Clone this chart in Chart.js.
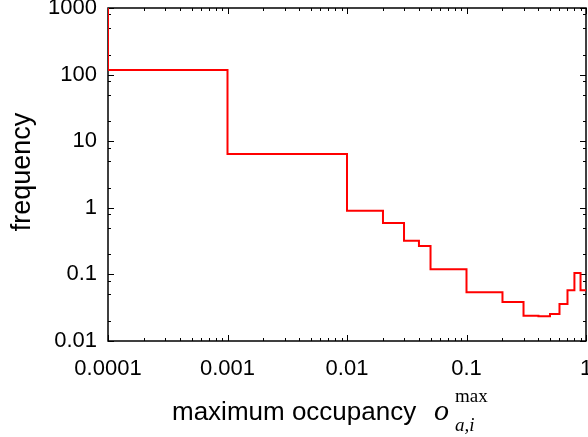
<!DOCTYPE html>
<html>
<head>
<meta charset="utf-8">
<script src="https://cdn.jsdelivr.net/npm/chart.js@4/dist/chart.umd.min.js"></script>
<style>
  html, body { margin: 0; padding: 0; background: #ffffff; }
  #wrap { width: 588px; height: 437px; position: relative; }
</style>
</head>
<body>
<div id="wrap"><canvas id="c" width="588" height="437"></canvas></div>
<script>
// ---- data (step histogram, left bin edges) ----
const binLeftEdges = [0.0001, 0.0001, 0.001, 0.01, 0.02, 0.03, 0.04, 0.05, 0.1, 0.2, 0.3, 0.4, 0.5, 0.6, 0.7, 0.8, 0.9, 1];
const frequencyValues = [3000, 117, 6.4, 0.9, 0.59, 0.32, 0.267, 0.119, 0.054, 0.0386, 0.024, 0.0236, 0.0254, 0.036, 0.0577, 0.105, 0.0577, 0.0577];
const xTickValues = [0.0001, 0.001, 0.01, 0.1, 1];
const yTickValues = [0.01, 0.1, 1, 10, 100, 1000];
const xMinorMultipliers = [2, 3, 4, 5, 6, 7, 8, 9];
const yMinorMultipliers = [2, 5, 8];
const xTitleText = 'maximum occupancy';
const yTitleText = 'frequency';

const SANS = '"Liberation Sans", Arial, Helvetica, sans-serif';
const SERIF = '"Liberation Serif", "DejaVu Serif", "Times New Roman", serif';

const points = binLeftEdges.map((x, i) => ({ x: x, y: frequencyValues[i] }));

function noPad(scale) {
  scale.paddingTop = 0; scale.paddingBottom = 0;
  scale.paddingLeft = 0; scale.paddingRight = 0;
}

const framePlugin = {
  id: 'frame',
  beforeDatasetsDraw(chart) {
    const ctx = chart.ctx;
    const a = chart.chartArea;
    const xs = chart.scales.x, ys = chart.scales.y;
    ctx.save();
    ctx.strokeStyle = '#000';
    ctx.lineWidth = 1.5;
    ctx.strokeRect(a.left, a.top, a.right - a.left, a.bottom - a.top);
    ctx.lineWidth = 1;
    ctx.beginPath();
    xTickValues.forEach((d, di) => {
      const majorPx = Math.round(xs.getPixelForValue(d)) + 0.5;
      ctx.moveTo(majorPx, a.bottom); ctx.lineTo(majorPx, a.bottom - 6);
      ctx.moveTo(majorPx, a.top); ctx.lineTo(majorPx, a.top + 6);
      if (di < xTickValues.length - 1) {
        xMinorMultipliers.forEach(m => {
          const px = Math.round(xs.getPixelForValue(d * m)) + 0.5;
          ctx.moveTo(px, a.bottom); ctx.lineTo(px, a.bottom - 3);
          ctx.moveTo(px, a.top); ctx.lineTo(px, a.top + 3);
        });
      }
    });
    yTickValues.forEach((d, di) => {
      const majorPx = Math.round(ys.getPixelForValue(d)) + 0.5;
      ctx.moveTo(a.left, majorPx); ctx.lineTo(a.left + 6, majorPx);
      ctx.moveTo(a.right, majorPx); ctx.lineTo(a.right - 6, majorPx);
      if (di < yTickValues.length - 1) {
        yMinorMultipliers.forEach(m => {
          const px = Math.round(ys.getPixelForValue(d * m)) + 0.5;
          ctx.moveTo(a.left, px); ctx.lineTo(a.left + 3, px);
          ctx.moveTo(a.right, px); ctx.lineTo(a.right - 3, px);
        });
      }
    });
    ctx.stroke();
    ctx.restore();
  },
  afterDraw(chart) {
    const ctx = chart.ctx;
    ctx.save();
    ctx.fillStyle = '#000';
    ctx.save();
    ctx.translate(30, 172);
    ctx.rotate(-Math.PI / 2);
    ctx.font = '27px ' + SANS;
    ctx.textAlign = 'center';
    ctx.textBaseline = 'alphabetic';
    ctx.fillText(yTitleText, 0, 0);
    ctx.restore();
    ctx.textAlign = 'left';
    ctx.textBaseline = 'alphabetic';
    ctx.font = '26px ' + SANS;
    ctx.fillText(xTitleText, 172, 420);
    ctx.font = 'italic 30px ' + SERIF;
    ctx.fillText('o', 434, 420);
    ctx.font = '19px ' + SERIF;
    ctx.fillText('max', 455, 402);
    ctx.font = 'italic 19px ' + SERIF;
    ctx.fillText('a,i', 455, 431);
    ctx.restore();
  }
};

new Chart(document.getElementById('c'), {
  type: 'line',
  data: {
    datasets: [{
      data: points,
      stepped: 'before',
      borderColor: '#ff0000',
      borderWidth: 2,
      pointRadius: 0,
      fill: false,
      tension: 0
    }]
  },
  options: {
    responsive: false,
    animation: false,
    events: [],
    layout: { padding: { top: 8, right: 2, left: 0, bottom: 0 } },
    plugins: { legend: { display: false }, tooltip: { enabled: false } },
    scales: {
      x: {
        type: 'logarithmic',
        min: 0.0001,
        max: 1,
        grid: { display: false, drawTicks: false, tickLength: 0 },
        border: { display: false },
        afterBuildTicks(scale) { scale.ticks = xTickValues.map(v => ({ value: v })); },
        afterFit(scale) { scale.height = 96; noPad(scale); },
        ticks: {
          autoSkip: false,
          maxRotation: 0,
          padding: 15,
          color: '#000',
          font: { family: SANS, size: 22 },
          callback: (v) => String(v)
        }
      },
      y: {
        type: 'logarithmic',
        min: 0.01,
        max: 1000,
        grid: { display: false, drawTicks: false, tickLength: 0 },
        border: { display: false },
        afterBuildTicks(scale) { scale.ticks = yTickValues.map(v => ({ value: v })); },
        afterFit(scale) { scale.width = 108; noPad(scale); },
        ticks: {
          autoSkip: false,
          padding: 11,
          color: '#000',
          font: { family: SANS, size: 22 },
          callback: (v) => String(v)
        }
      }
    }
  },
  plugins: [framePlugin]
});
</script>
</body>
</html>
